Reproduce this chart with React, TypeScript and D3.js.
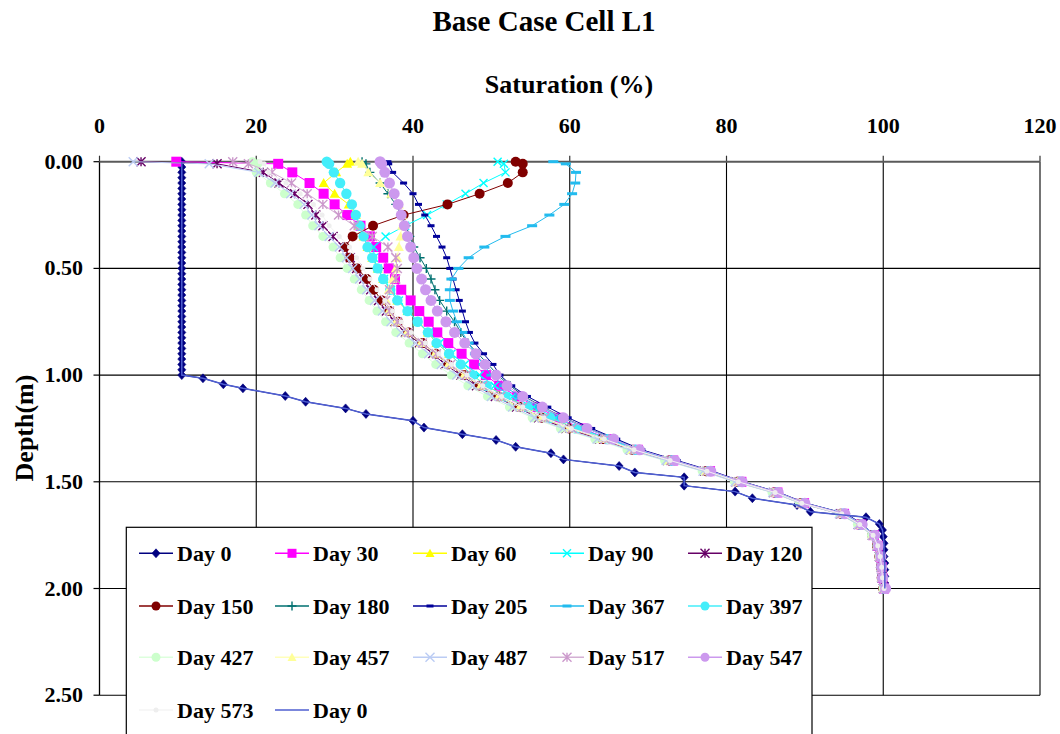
import React from 'react';
import * as d3 from 'd3';

// ---------------- data ----------------
const xTicks = [0, 20, 40, 60, 80, 100, 120];
const yTicks = [0, 0.5, 1.0, 1.5, 2.0, 2.5];

const depths = [0, 0.01, 0.05,
  0.1, 0.15, 0.2, 0.25, 0.3, 0.35, 0.4, 0.45, 0.5,
  0.55, 0.6, 0.65, 0.7, 0.75, 0.8, 0.85, 0.9, 0.95, 1.0,
  1.05, 1.1, 1.15, 1.2, 1.25, 1.3, 1.35, 1.4, 1.45, 1.5,
  1.55, 1.6, 1.65, 1.7, 1.75, 1.8, 1.85, 1.9, 1.95, 2.0];

const day0Depths = [0, 0.025, 0.05, 0.075, 0.1, 0.125, 0.15, 0.175, 0.2, 0.225, 0.25, 0.275, 0.3, 0.325,
  0.35, 0.375, 0.4, 0.425, 0.45, 0.475, 0.5, 0.525, 0.55, 0.575, 0.6, 0.625, 0.65, 0.675, 0.7, 0.725,
  0.75, 0.775, 0.8, 0.825, 0.85, 0.875, 0.9, 0.925, 0.95, 0.975, 1.0,
  1.015, 1.043, 1.062, 1.098, 1.125, 1.156, 1.182, 1.214, 1.246, 1.277, 1.304, 1.336, 1.366, 1.395,
  1.426, 1.456, 1.479, 1.518, 1.546, 1.577, 1.609, 1.64, 1.666, 1.698, 1.726, 1.757, 1.788, 1.819,
  1.85, 1.881, 1.912, 1.943, 1.974, 2.0];
const day0Sat = [10.5, 10.5, 10.5, 10.5, 10.5, 10.5, 10.5, 10.5, 10.5, 10.5, 10.5, 10.5, 10.5, 10.5,
  10.5, 10.5, 10.5, 10.5, 10.5, 10.5, 10.5, 10.5, 10.5, 10.5, 10.5, 10.5, 10.5, 10.5, 10.5, 10.5,
  10.5, 10.5, 10.5, 10.5, 10.5, 10.5, 10.5, 10.5, 10.5, 10.5, 10.5,
  13.2, 15.8, 18.3, 23.7, 26.3, 31.4, 34.0, 40.0, 41.4, 46.3, 50.6, 53.1, 57.6, 59.2,
  66.3, 68.3, 74.6, 74.6, 81.1, 83.3, 89.0, 90.7, 97.8, 99.5, 99.9, 100.0, 100.1, 100.1,
  100.1, 100.2, 100.2, 100.2, 100.2, 100.2];

const day30 = [9.8, 22.8, 24.6,
  26.8, 28.6, 30.0, 31.6, 33.3, 34.5, 35.3, 36.2, 36.9,
  37.7, 38.5, 39.7, 40.8, 42.0, 43.1, 44.5, 46.2, 47.8, 49.3,
  51.0, 53.3, 55.9, 58.5, 61.5, 65.1, 68.7, 73.2, 77.9, 81.9,
  86.5, 89.9, 95.0, 97.2, 98.8, 99.3, 99.6, 99.8, 99.9, 100.1];
const day60 = [32.0, 31.6, 30.2,
  28.6, 30.0, 31.8, 32.7, 33.2, 33.7, 34.2, 34.8, 35.5,
  36.2, 37.1, 38.0, 39.3, 40.6, 41.9, 43.0, 44.6, 46.1, 47.6,
  49.4, 51.8, 54.6, 57.5, 60.8, 64.8, 68.4, 73.0, 77.7, 81.7,
  86.4, 89.8, 94.9, 97.1, 98.7, 99.3, 99.6, 99.8, 99.9, 100.1];
const day90 = [50.8, 51.6, 51.8,
  49.0, 46.7, 44.3, 41.8, 39.0, 36.5, 35.0, 35.0, 35.5,
  36.3, 37.2, 38.2, 39.3, 40.6, 42.0, 43.4, 44.9, 46.6, 48.5,
  50.4, 52.7, 55.4, 58.2, 61.3, 65.0, 68.6, 73.2, 77.8, 81.8,
  86.5, 89.8, 95.0, 97.2, 98.8, 99.3, 99.6, 99.8, 99.9, 100.1];
const day120 = [5.3, 15.0, 20.9,
  22.9, 24.9, 26.6, 27.6, 28.5, 29.8, 31.1, 32.0, 32.8,
  33.7, 34.6, 35.6, 36.6, 37.7, 39.0, 40.8, 42.5, 44.1, 46.1,
  48.1, 50.5, 53.2, 56.0, 59.5, 63.8, 67.8, 72.5, 77.2, 81.2,
  86.0, 89.4, 94.5, 96.8, 98.6, 99.2, 99.5, 99.7, 99.8, 100.0];
const day150 = [53.1, 54.0, 54.0,
  52.1, 48.5, 44.4, 38.8, 34.9, 32.3, 31.3, 31.9, 32.9,
  34.1, 35.0, 36.0, 37.0, 38.1, 39.4, 41.2, 42.9, 44.5, 46.5,
  48.5, 50.9, 53.6, 56.4, 59.9, 64.1, 68.0, 72.7, 77.4, 81.4,
  86.1, 89.5, 94.6, 96.9, 98.6, 99.2, 99.5, 99.7, 99.8, 100.0];
const day180 = [33.5, 34.0, 34.5,
  35.8, 36.8, 37.8, 38.5, 39.1, 39.6, 40.1, 40.9, 41.7,
  42.3, 42.8, 43.4, 44.3, 45.3, 46.1, 47.0, 48.3, 49.6, 50.8,
  52.4, 54.2, 56.6, 59.3, 62.3, 65.8, 69.0, 73.5, 78.0, 82.0,
  86.6, 90.0, 95.2, 97.3, 98.9, 99.4, 99.7, 99.8, 99.9, 100.2];
const day205 = [36.8, 36.9, 37.4,
  38.8, 40.0, 40.7, 41.5, 42.3, 43.0, 43.7, 44.3, 44.7,
  45.1, 45.5, 45.9, 46.3, 46.7, 47.2, 47.9, 49.0, 50.2, 51.1,
  52.6, 54.6, 57.2, 59.8, 62.8, 66.0, 69.2, 73.7, 78.2, 82.1,
  86.7, 90.1, 95.3, 97.4, 98.9, 99.4, 99.7, 99.8, 99.9, 100.2];
const day367 = [57.9, 59.5, 60.8,
  60.7, 60.3, 59.3, 57.4, 55.2, 51.8, 49.1, 47.1, 45.8,
  44.9, 44.7, 44.7, 45.1, 45.6, 46.3, 47.1, 47.9, 49.0, 50.0,
  51.6, 53.6, 56.2, 59.0, 62.2, 65.6, 68.8, 73.3, 77.9, 81.9,
  86.5, 89.9, 95.1, 97.3, 98.9, 99.4, 99.7, 99.8, 99.9, 100.3];
const day397 = [29.0, 29.3, 29.9,
  30.7, 31.5, 32.2, 32.7, 33.2, 33.7, 34.2, 34.8, 35.5,
  36.2, 37.1, 38.0, 39.3, 40.6, 41.9, 43.0, 44.6, 46.1, 47.6,
  49.4, 51.8, 54.6, 57.5, 60.8, 64.8, 68.4, 73.0, 77.7, 81.7,
  86.4, 89.8, 94.9, 97.1, 98.7, 99.3, 99.6, 99.8, 99.9, 100.1];
const day427 = [19.5, 20.2, 20.0,
  21.8, 23.6, 25.3, 26.3, 27.2, 28.5, 29.8, 30.7, 31.6,
  32.5, 33.4, 34.4, 35.4, 36.5, 37.8, 39.5, 41.2, 42.9, 44.9,
  47.0, 49.5, 52.3, 55.2, 58.8, 63.2, 67.3, 72.1, 76.9, 81.0,
  85.8, 89.3, 94.4, 96.7, 98.5, 99.2, 99.5, 99.7, 99.8, 100.0];
const day457 = [33.0, 33.5, 34.3,
  35.8, 37.2, 38.2, 38.6, 38.6, 38.4, 38.2, 38.0, 37.8,
  37.4, 36.9, 36.6, 36.9, 37.8, 39.2, 41.0, 42.8, 44.5, 46.5,
  48.6, 50.9, 53.6, 56.4, 59.9, 64.2, 68.0, 72.7, 77.4, 81.4,
  86.1, 89.5, 94.6, 96.9, 98.6, 99.2, 99.5, 99.7, 99.8, 100.0];
const day487 = [4.3, 14.0, 20.3,
  22.4, 24.4, 26.1, 27.1, 28.0, 29.3, 30.6, 31.5, 32.3,
  33.2, 34.1, 35.1, 36.1, 37.2, 38.5, 40.3, 42.0, 43.6, 45.6,
  47.6, 50.0, 52.7, 55.5, 59.1, 63.5, 67.6, 72.3, 77.0, 81.1,
  85.9, 89.4, 94.4, 96.8, 98.6, 99.2, 99.5, 99.7, 99.8, 100.0];
const day517 = [17.0, 19.0, 22.0,
  24.5, 26.5, 28.5, 30.5, 32.5, 34.8, 36.8, 37.8, 38.0,
  37.8, 37.0, 36.5, 37.0, 38.0, 39.4, 41.2, 43.0, 44.8, 46.8,
  48.9, 51.2, 54.0, 56.8, 60.3, 64.5, 68.2, 72.9, 77.5, 81.5,
  86.2, 89.6, 94.7, 97.0, 98.7, 99.3, 99.6, 99.8, 99.9, 100.1];
const day547 = [35.8, 36.0, 36.4,
  37.0, 37.6, 38.1, 38.5, 38.9, 39.3, 39.7, 40.1, 40.5,
  41.1, 41.6, 42.3, 43.1, 44.2, 45.3, 46.6, 48.0, 49.2, 50.6,
  52.0, 54.0, 56.5, 59.2, 62.2, 65.6, 68.9, 73.4, 78.0, 82.0,
  86.6, 90.0, 95.1, 97.3, 98.9, 99.4, 99.7, 99.8, 99.9, 100.3];
const day573 = [20.5, 21.0, 21.6,
  23.8, 25.6, 27.3, 28.4, 29.3, 30.6, 31.9, 32.8, 33.6,
  34.5, 35.4, 36.4, 37.4, 38.5, 39.8, 41.6, 43.3, 44.9, 46.9,
  48.9, 51.3, 54.0, 56.7, 60.2, 64.4, 68.2, 72.8, 77.5, 81.5,
  86.2, 89.6, 94.7, 97.0, 98.7, 99.3, 99.6, 99.8, 99.9, 100.1];

// ---------------- series config ----------------
type Sym = 'diamond' | 'square' | 'triangle' | 'x' | 'asterisk' | 'circle' | 'plus' | 'dash' | 'longdash' | 'none';
interface Series { name: string; d: number[]; s: number[]; color: string; line: string; lw: number; sym: Sym; r: number; }

const SERIES: Series[] = [
  { name: 'Day 0', d: day0Depths, s: day0Sat, color: '#000080', line: '#000080', lw: 1, sym: 'diamond', r: 4.5 },
  { name: 'Day 30', d: depths, s: day30, color: '#FF00FF', line: '#FF00FF', lw: 1, sym: 'square', r: 5 },
  { name: 'Day 60', d: depths, s: day60, color: '#FFFF00', line: '#FFFF00', lw: 1, sym: 'triangle', r: 5 },
  { name: 'Day 90', d: depths, s: day90, color: '#00FFFF', line: '#00FFFF', lw: 1, sym: 'x', r: 4 },
  { name: 'Day 120', d: depths, s: day120, color: '#660066', line: '#660066', lw: 1, sym: 'asterisk', r: 4.5 },
  { name: 'Day 150', d: depths, s: day150, color: '#800000', line: '#800000', lw: 1, sym: 'circle', r: 5 },
  { name: 'Day 180', d: depths, s: day180, color: '#007070', line: '#007070', lw: 1, sym: 'plus', r: 4.5 },
  { name: 'Day 205', d: depths, s: day205, color: '#000099', line: '#000099', lw: 1, sym: 'dash', r: 3.5 },
  { name: 'Day 367', d: depths, s: day367, color: '#22BBEE', line: '#22BBEE', lw: 1, sym: 'longdash', r: 5 },
  { name: 'Day 397', d: depths, s: day397, color: '#44EEFA', line: '#44EEFA', lw: 1, sym: 'circle', r: 5.2 },
  { name: 'Day 427', d: depths, s: day427, color: '#CCFFCC', line: '#DDFFDD', lw: 1, sym: 'circle', r: 4.5 },
  { name: 'Day 457', d: depths, s: day457, color: '#FFFF99', line: '#FFFFBB', lw: 1, sym: 'triangle', r: 5 },
  { name: 'Day 487', d: depths, s: day487, color: '#BBCCF4', line: '#BBCCF4', lw: 1, sym: 'x', r: 4.5 },
  { name: 'Day 517', d: depths, s: day517, color: '#CC99CC', line: '#D4B0D4', lw: 1, sym: 'asterisk', r: 4.5 },
  { name: 'Day 547', d: depths, s: day547, color: '#CC99EE', line: '#CC99EE', lw: 1, sym: 'circle', r: 5.5 },
  { name: 'Day 573', d: depths, s: day573, color: '#EEEEEE', line: '#F4F4F4', lw: 1, sym: 'circle', r: 2.5 },
  { name: 'Day 0', d: day0Depths, s: day0Sat, color: '#4F5FD0', line: '#4F5FD0', lw: 1.5, sym: 'none', r: 0 },
];

// ---------------- layout ----------------
const W = 1060, H = 734;
const x = d3.scaleLinear().domain([0, 120]).range([99.5, 1040]);
const y = d3.scaleLinear().domain([0, 2.5]).range([161.7, 695.2]);
const FONT = '"Liberation Serif", "Times New Roman", Times, serif';

function Marker({ sym, cx, cy, c, r }: { sym: Sym; cx: number; cy: number; c: string; r: number }) {
  switch (sym) {
    case 'diamond':
      return <path d={`M${cx},${cy - r}L${cx + r * 0.9},${cy}L${cx},${cy + r}L${cx - r * 0.9},${cy}Z`} fill={c} stroke={c} strokeWidth={0.6} />;
    case 'square':
      return <rect x={cx - r} y={cy - r} width={2 * r} height={2 * r} fill={c} />;
    case 'triangle':
      return <path d={`M${cx},${cy - r}L${cx + r},${cy + r * 0.8}L${cx - r},${cy + r * 0.8}Z`} fill={c} />;
    case 'circle':
      return <circle cx={cx} cy={cy} r={r} fill={c} />;
    case 'x':
      return <path d={`M${cx - r},${cy - r}L${cx + r},${cy + r}M${cx - r},${cy + r}L${cx + r},${cy - r}`} stroke={c} strokeWidth={1.4} fill="none" />;
    case 'asterisk':
      return <path d={`M${cx - r},${cy - r}L${cx + r},${cy + r}M${cx - r},${cy + r}L${cx + r},${cy - r}M${cx},${cy - r}L${cx},${cy + r}`} stroke={c} strokeWidth={1.4} fill="none" />;
    case 'plus':
      return <path d={`M${cx - r},${cy}L${cx + r},${cy}M${cx},${cy - r}L${cx},${cy + r}`} stroke={c} strokeWidth={1.4} fill="none" />;
    case 'dash':
      return <rect x={cx - r} y={cy - 1.5} width={2 * r} height={3} fill={c} />;
    case 'longdash':
      return <rect x={cx - r} y={cy - 1.5} width={2 * r} height={3} fill={c} />;
    default:
      return null;
  }
}

const legendCols = [177, 313, 451, 588, 726];
const legendRows = [553.3, 606, 657.3, 710];

export default function App() {
  const line = d3.line<[number, number]>().x(p => x(p[0])).y(p => y(p[1]));
  const xMin = x(0), xMax = x(120), yMin = y(0), yMax = y(2.5);

  return (
    <svg width={W} height={H} viewBox={`0 0 ${W} ${H}`}
      style={{ position: 'absolute', left: 0, top: 0, display: 'block', background: '#fff' }}
      fontFamily={FONT}>
      <rect x={0} y={0} width={W} height={H} fill="#fff" />
      {/* title */}
      <text x={544} y={31} textAnchor="middle" fontSize={29} fontWeight="bold">Base Case Cell L1</text>
      <text x={569} y={93} textAnchor="middle" fontSize={26} fontWeight="bold">Saturation (%)</text>
      <text transform={`translate(33,428) rotate(-90)`} textAnchor="middle" fontSize={26} fontWeight="bold">Depth(m)</text>

      {/* gridlines */}
      {xTicks.filter(v => v > 0).map(v => (
        <line key={'gx' + v} x1={x(v)} x2={x(v)} y1={yMin} y2={yMax} stroke="#000" strokeWidth={1.1} />
      ))}
      {yTicks.filter(v => v > 0).map(v => (
        <line key={'gy' + v} x1={xMin} x2={xMax} y1={y(v)} y2={y(v)} stroke="#000" strokeWidth={1.1} />
      ))}
      {/* axes */}
      <line x1={xMin} x2={xMin} y1={yMin} y2={yMax} stroke="#000" strokeWidth={1.3} />
      {xTicks.map(v => (
        <g key={'tx' + v}>
          <line x1={x(v)} x2={x(v)} y1={yMin - 6} y2={yMin} stroke="#333" strokeWidth={1.2} />
          <text x={x(v)} y={133} textAnchor="middle" fontSize={22} fontWeight="bold">{v}</text>
        </g>
      ))}
      {yTicks.map(v => (
        <g key={'ty' + v}>
          <line x1={xMin - 6} x2={xMin} y1={y(v)} y2={y(v)} stroke="#000" strokeWidth={1.2} />
          <text x={83} y={y(v) + 7} textAnchor="end" fontSize={22} fontWeight="bold">{d3.format('.2f')(v)}</text>
        </g>
      ))}
      <line x1={xMin} x2={xMax} y1={yMin} y2={yMin} stroke="#5a5a5a" strokeWidth={2} />

      {/* series */}
      {SERIES.map((s, i) => {
        const pts: [number, number][] = s.s.map((v, j) => [v, s.d[j]]);
        return (
          <g key={'s' + i}>
            <path d={line(pts) || ''} fill="none" stroke={s.line} strokeWidth={s.lw} />
            {s.sym !== 'none' && pts.map((p, j) => (
              <Marker key={j} sym={s.sym} cx={x(p[0])} cy={y(p[1])} c={s.color} r={s.r} />
            ))}
          </g>
        );
      })}

      {/* legend */}
      <rect x={126.3} y={527.3} width={685.7} height={230} fill="#fff" stroke="#000" strokeWidth={1.2} />
      {SERIES.map((s, i) => {
        const col = i % 5, row = Math.floor(i / 5);
        const tx = legendCols[col], ty = legendRows[row];
        return (
          <g key={'l' + i}>
            <line x1={tx - 38} x2={tx - 4} y1={ty} y2={ty} stroke={s.line} strokeWidth={1.4} />
            {s.sym !== 'none' && <Marker sym={s.sym} cx={tx - 21} cy={ty} c={s.color} r={Math.min(s.r, 4.5)} />}
            <text x={tx} y={ty + 7.5} fontSize={22} fontWeight="bold">{s.name}</text>
          </g>
        );
      })}
    </svg>
  );
}
